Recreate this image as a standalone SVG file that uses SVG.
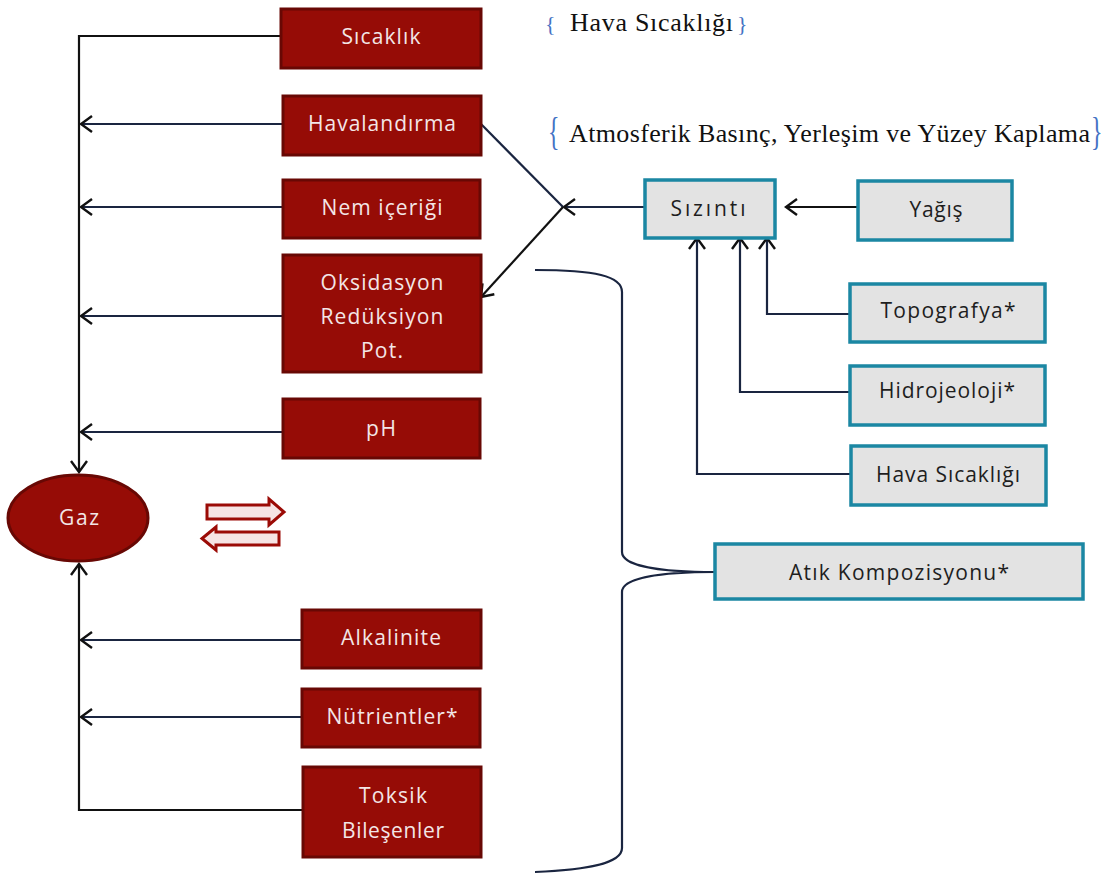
<svg xmlns="http://www.w3.org/2000/svg" width="1114" height="876" viewBox="0 0 1114 876">
<style>
.red{fill:#960c06;stroke:#680804;stroke-width:3}
.gray{fill:#e3e3e3;stroke:#1b87a3;stroke-width:3.5}
.rt{font-family:"Open Sans","Noto Sans",sans-serif;font-size:21px;fill:#f3e6e6;text-anchor:middle}
.gt{font-family:"Open Sans","Noto Sans",sans-serif;font-size:21px;fill:#1e1e1e;text-anchor:middle}
.ser{font-family:"Liberation Serif","Times New Roman",serif;font-size:26px;fill:#111}
.br{font-family:"Liberation Serif","Times New Roman",serif;fill:#4472c4}
.c{fill:none;stroke:#1a2540;stroke-width:2.2}
.ck{fill:none;stroke:#111;stroke-width:2.2}
</style>
<defs>
<marker id="ah" viewBox="-13 -10 15 20" markerWidth="15" markerHeight="20" refX="0" refY="0" orient="auto" markerUnits="userSpaceOnUse">
<path d="M-11,-8 L0,0 L-11,8" fill="none" stroke="#111" stroke-width="2.4"/>
</marker>
</defs>
<rect width="1114" height="876" fill="#fff"/>

<g id="connectors">
<path class="ck" d="M281,36 H79 V472" marker-end="url(#ah)"/>
<path class="c" d="M283,124 H81" marker-end="url(#ah)"/>
<path class="c" d="M283,207 H81" marker-end="url(#ah)"/>
<path class="c" d="M283,316 H81" marker-end="url(#ah)"/>
<path class="c" d="M283,432 H81" marker-end="url(#ah)"/>
<path class="c" d="M302,640 H81" marker-end="url(#ah)"/>
<path class="c" d="M302,717 H81" marker-end="url(#ah)"/>
<path class="ck" d="M303,810 H79 V564" marker-end="url(#ah)"/>
<path class="c" d="M645,207 H564" marker-end="url(#ah)"/>
<path class="c" d="M481,124 L563,207"/>
<path class="ck" d="M563,207 L481,297" marker-end="url(#ah)"/>
<path class="ck" d="M858,207 H786" marker-end="url(#ah)"/>
<path class="c" d="M850,314 H767 V238" marker-end="url(#ah)"/>
<path class="c" d="M850,392 H740 V238" marker-end="url(#ah)"/>
<path class="c" d="M851,474 H697 V238" marker-end="url(#ah)"/>
<path class="c" d="M535,270 C595,270 622,276 622,292 V552 C622,566 660,572 715,572 C660,572 622,578 622,592 V848 C622,864 585,870 535,872"/>
</g>

<g id="n-sicaklik"><rect class="red" x="281" y="9" width="200" height="59"/><text class="rt" x="381" y="44" textLength="79">Sıcaklık</text></g>
<g id="n-havalandirma"><rect class="red" x="283" y="96" width="198" height="59"/><text class="rt" x="382" y="131" textLength="148">Havalandırma</text></g>
<g id="n-nem"><rect class="red" x="283" y="180" width="197" height="58"/><text class="rt" x="382" y="215" textLength="121">Nem içeriği</text></g>
<g id="n-oksidasyon"><rect class="red" x="283" y="255" width="198" height="117"/>
<text class="rt" x="382" y="290" textLength="123">Oksidasyon</text>
<text class="rt" x="382" y="324" textLength="123">Redüksiyon</text>
<text class="rt" x="382" y="358" textLength="42">Pot.</text></g>
<g id="n-ph"><rect class="red" x="283" y="399" width="197" height="59"/><text class="rt" x="381" y="436" textLength="30">pH</text></g>
<g id="n-gaz"><ellipse cx="78" cy="518" rx="70" ry="43" fill="#960c06" stroke="#680804" stroke-width="3"/><text class="rt" x="79" y="525" textLength="40">Gaz</text></g>
<g id="n-equil">
<path d="M207,505 H269 V499 L284,512 L269,525 V519 H207 Z" fill="#f6e4e4" stroke="#9b0b06" stroke-width="3"/>
<path d="M279,532 H216 V527 L202,538.5 L216,550 V545 H279 Z" fill="#f6e4e4" stroke="#9b0b06" stroke-width="3"/>
</g>
<g id="n-alkalinite"><rect class="red" x="302" y="610" width="179" height="58"/><text class="rt" x="391" y="645" textLength="100">Alkalinite</text></g>
<g id="n-nutrientler"><rect class="red" x="302" y="689" width="178" height="58"/><text class="rt" x="392" y="724" textLength="131">Nütrientler*</text></g>
<g id="n-toksik"><rect class="red" x="303" y="767" width="178" height="90"/>
<text class="rt" x="393" y="803" textLength="68">Toksik</text>
<text class="rt" x="393" y="838" textLength="102">Bileşenler</text></g>

<g id="n-sizinti"><rect class="gray" x="645" y="180" width="130" height="58"/><text class="gt" x="708" y="216" textLength="75">Sızıntı</text></g>
<g id="n-yagis"><rect class="gray" x="858" y="181" width="154" height="59"/><text class="gt" x="936" y="217" textLength="53">Yağış</text></g>
<g id="n-topografya"><rect class="gray" x="850" y="284" width="195" height="58"/><text class="gt" x="948" y="318" textLength="135">Topografya*</text></g>
<g id="n-hidrojeoloji"><rect class="gray" x="850" y="366" width="195" height="59"/><text class="gt" x="947" y="398" textLength="136">Hidrojeoloji*</text></g>
<g id="n-havasicakligi"><rect class="gray" x="851" y="446" width="195" height="59"/><text class="gt" x="948" y="482" textLength="144">Hava Sıcaklığı</text></g>
<g id="n-atik"><rect class="gray" x="715" y="544" width="368" height="55"/><text class="gt" x="899" y="580" textLength="220">Atık Kompozisyonu*</text></g>

<g id="n-note1">
<text class="br" x="545" y="31" font-size="22">{</text>
<text class="ser" x="570" y="31" textLength="163">Hava Sıcaklığı</text>
<text class="br" x="737" y="31" font-size="22">}</text>
</g>
<g id="n-note2">
<text class="br" transform="translate(548,145) scale(1,1.7)" font-size="24">{</text>
<text class="ser" x="569" y="142" textLength="521">Atmosferik Basınç, Yerleşim ve Yüzey Kaplama</text>
<text class="br" transform="translate(1091,145) scale(1,1.7)" font-size="24">}</text>
</g>
</svg>
